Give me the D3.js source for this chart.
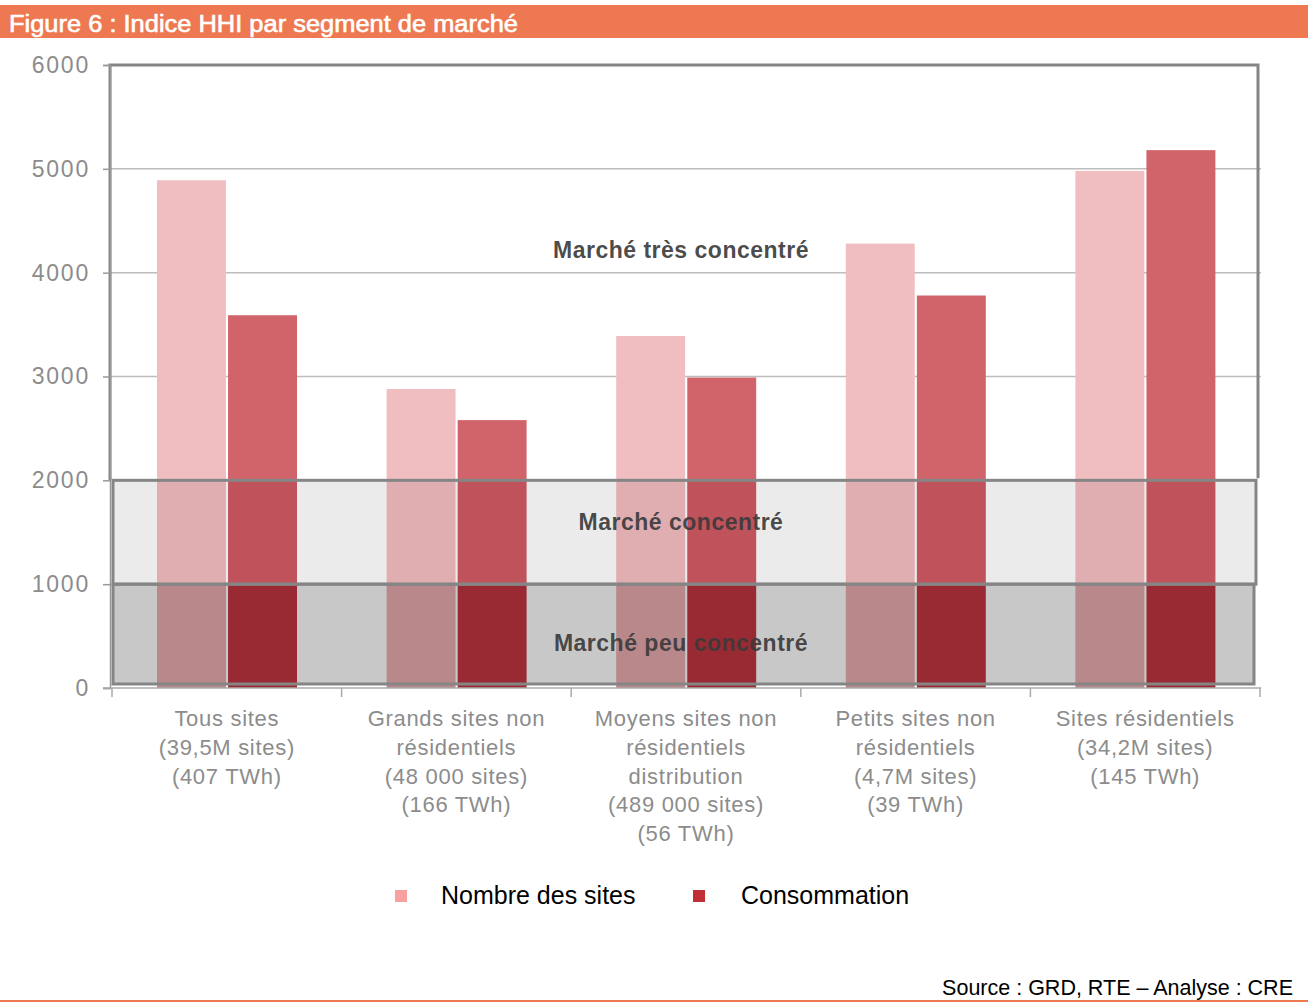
<!DOCTYPE html>
<html><head><meta charset="utf-8">
<script src="https://cdn.jsdelivr.net/npm/d3@7"></script>
<style>
html,body{margin:0;padding:0;background:#fff;}
svg{display:block;}
</style></head>
<body>
<svg id="chart" width="1308" height="1003"></svg>
<script>
// ---- data ----
const categories = [
  ["Tous sites","(39,5M sites)","(407 TWh)"],
  ["Grands sites non","résidentiels","(48 000 sites)","(166 TWh)"],
  ["Moyens sites non","résidentiels","distribution","(489 000 sites)","(56 TWh)"],
  ["Petits sites non","résidentiels","(4,7M sites)","(39 TWh)"],
  ["Sites résidentiels","(34,2M sites)","(145 TWh)"]
];
const seriesNames = ["Nombre des sites","Consommation"];
const nombreSites = [4890, 2880, 3390, 4280, 4980];
const consommation = [3590, 2580, 2990, 3780, 5180];
const yTicks = [0,1000,2000,3000,4000,5000,6000];
const zoneBounds = [0, 1000, 2000, 6000];
const zoneLabels = ["Marché peu concentré","Marché concentré","Marché très concentré"];
const titleText = "Figure 6 : Indice HHI par segment de marché";
const sourceText = "Source : GRD, RTE – Analyse : CRE";

// ---- styles ----
const barColors = [ // per zone: [light, dark]
  ["#B9888A","#992A33"],
  ["#E0AEB1","#BF525A"],
  ["#F0BEC1","#D1636A"]
];
const zoneFill = ["#C8C8C8","#EBEBEB",null];
const legendColors = ["#F9A0A0","#C22E38"];

const svg = d3.select("#chart");
const FONT = "'Liberation Sans', Arial, sans-serif";

// title bar
svg.append("rect").attr("x",0).attr("y",5).attr("width",1308).attr("height",33).attr("fill","#ED7851");
svg.append("text").attr("x",9).attr("y",32).text(titleText)
  .attr("fill","#fff").attr("stroke","#fff").attr("stroke-width",0.6)
  .attr("font-family",FONT).attr("font-size",23)
  .attr("textLength",509).attr("lengthAdjust","spacingAndGlyphs");

// scales
const y = d3.scaleLinear().domain([0,6000]).range([688,65]);
const xCat = d3.scaleBand().domain(d3.range(categories.length)).range([112,1260]);
const xSer = d3.scaleBand().domain(d3.range(seriesNames.length)).range([45,185]).paddingInner(0.03);
const xl = 110, xr = 1258;

// gridlines
svg.append("g").selectAll("line").data([3000,4000,5000]).join("line")
  .attr("x1",xl).attr("x2",1261).attr("y1",d=>y(d)).attr("y2",d=>y(d))
  .attr("stroke","#BDBDBD").attr("stroke-width",1.5);

// zone fills
svg.append("rect").attr("x",113).attr("y",y(2000)).attr("width",1256-113).attr("height",y(1000)-y(2000)).attr("fill",zoneFill[1]);
svg.append("rect").attr("x",113).attr("y",y(1000)).attr("width",1254-113).attr("height",684-y(1000)).attr("fill",zoneFill[0]);

// bars split by zone
const allSeries = [nombreSites, consommation];
const segs = [];
allSeries.forEach((vals,s)=>{
  vals.forEach((v,i)=>{
    for(let z=0; z<3; z++){
      const lo = zoneBounds[z], hi = Math.min(zoneBounds[z+1], v);
      if(hi>lo) segs.push({i,s,lo,hi,z});
    }
  });
});
svg.append("g").selectAll("rect").data(segs).join("rect")
  .attr("x",d=>xCat(d.i)+xSer(d.s))
  .attr("width",xSer.bandwidth())
  .attr("y",d=>y(d.hi))
  .attr("height",d=>y(d.lo)-y(d.hi))
  .attr("fill",d=>barColors[d.z][d.s]);

// frames
const frameColor = "#858585";
svg.append("path")
  .attr("d",`M${xl},${y(2000)} L${xl},${y(6000)} L${xr},${y(6000)} L${xr},${y(2000)-2}`)
  .attr("fill","none").attr("stroke",frameColor).attr("stroke-width",3);
svg.append("rect").attr("x",113).attr("y",y(2000)).attr("width",1256-113).attr("height",y(1000)-y(2000))
  .attr("fill","none").attr("stroke",frameColor).attr("stroke-width",3);
svg.append("rect").attr("x",113).attr("y",y(1000)).attr("width",1254-113).attr("height",684-y(1000))
  .attr("fill","none").attr("stroke",frameColor).attr("stroke-width",3);

// y axis
const yAxis = svg.append("g").attr("transform",`translate(${xl},0)`)
  .call(d3.axisLeft(y).tickValues(yTicks).tickSize(7).tickPadding(13).tickFormat(d3.format("d")));
yAxis.select(".domain").attr("stroke","#999").attr("stroke-width",1.5);
yAxis.selectAll(".tick line").attr("stroke","#999").attr("stroke-width",1.5);
yAxis.selectAll("text").attr("fill","#8C8C8C").attr("font-family",FONT).attr("font-size",23)
  .attr("letter-spacing",1.8);

// x axis
svg.append("line").attr("x1",103).attr("x2",1261).attr("y1",688).attr("y2",688)
  .attr("stroke","#AAAAAA").attr("stroke-width",1.5);
svg.append("g").selectAll("line").data(d3.range(categories.length+1)).join("line")
  .attr("x1",d=>112+d*xCat.step()).attr("x2",d=>112+d*xCat.step())
  .attr("y1",688).attr("y2",697).attr("stroke","#AAAAAA").attr("stroke-width",1.5);
const xl2 = svg.append("g").selectAll("text").data(categories).join("text")
  .attr("x",(d,i)=>xCat(i)+xCat.bandwidth()/2).attr("y",726)
  .attr("text-anchor","middle").attr("fill","#8C8C8C").attr("font-family",FONT).attr("font-size",22)
  .attr("letter-spacing",0.7);
xl2.selectAll("tspan").data(d=>d).join("tspan")
  .attr("x",function(){return this.parentNode.getAttribute("x");})
  .attr("dy",(d,j)=>j===0?0:28.8).text(d=>d);

// zone labels
const zoneLabelY = [643, 522, 250];
svg.append("g").selectAll("text").data(zoneLabels).join("text")
  .attr("x",681).attr("y",(d,i)=>zoneLabelY[i]+8)
  .attr("text-anchor","middle").attr("fill","#3A3A3A").attr("fill-opacity",0.92)
  .attr("font-family",FONT).attr("font-weight","bold").attr("font-size",23)
  .attr("letter-spacing",0.5)
  .text(d=>d);

// legend
const legX = [395, 693], legTextX = [441, 741];
const leg = svg.append("g").selectAll("g").data(seriesNames).join("g");
leg.append("rect").attr("x",(d,i)=>legX[i]).attr("y",890).attr("width",12).attr("height",12)
  .attr("fill",(d,i)=>legendColors[i]);
leg.append("text").attr("x",(d,i)=>legTextX[i]).attr("y",904).text(d=>d)
  .attr("fill","#000").attr("font-family",FONT).attr("font-size",25);

// source
svg.append("text").attr("x",1293).attr("y",995).attr("text-anchor","end").text(sourceText)
  .attr("fill","#000").attr("font-family",FONT).attr("font-size",21.5);
svg.append("line").attr("x1",0).attr("x2",1308).attr("y1",1001).attr("y2",1001)
  .attr("stroke","#ED7851").attr("stroke-width",2);
</script>
</body></html>
